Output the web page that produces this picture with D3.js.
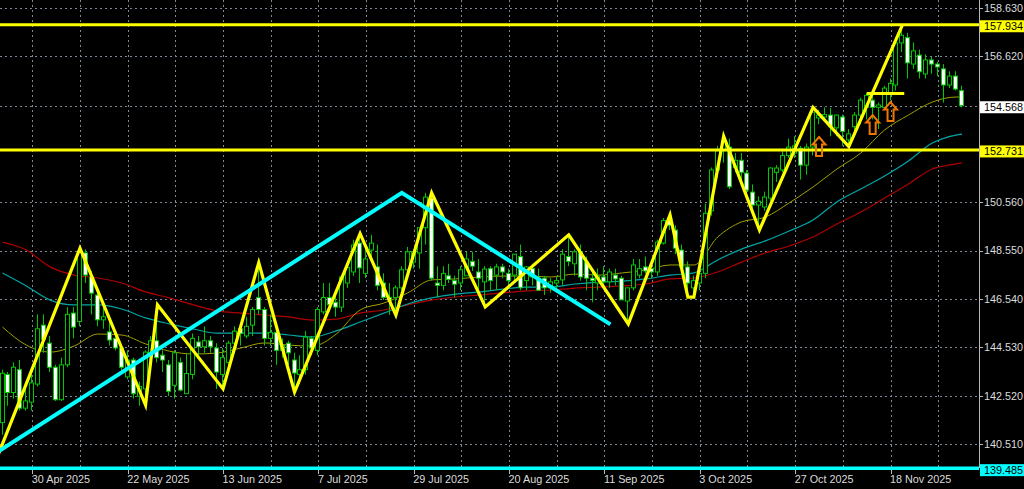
<!DOCTYPE html>
<html><head><meta charset="utf-8">
<script src="https://cdn.jsdelivr.net/npm/d3@7"></script>
<style>html,body{margin:0;padding:0;background:#000;overflow:hidden}svg{display:block}</style>
</head><body><svg id="c" width="1024" height="489"></svg>
<script>
// ---- data (USD/JPY daily, 23 Apr 2025 .. 4 Dec 2025, bar index 0..161) ----
const opens = [141.4,143.4,142.65,143.6,142.0,142.25,143.0,145.45,144.7,143.7,
142.35,143.8,145.95,145.6,148.45,147.45,146.7,145.67,145.17,144.9,
144.5,143.3,144.0,142.5,142.8,144.3,144.8,144.2,143.8,142.95,
143.9,142.6,143.4,144.75,144.55,144.8,144.5,143.4,143.9,144.7,
145.3,145.0,145.45,146.6,146.1,144.9,145.15,144.4,144.7,144.0,
143.4,143.6,144.9,144.4,146.0,146.6,146.4,146.2,147.2,147.66,
148.86,147.6,148.57,147.87,147.2,146.6,146.6,147.0,147.75,148.07,
148.45,149.5,150.73,147.2,147.1,147.5,147.3,147.2,147.5,148.1,
147.66,147.25,147.8,147.53,147.87,147.6,147.53,148.3,147.3,147.8,
147.4,147.4,147.0,147.2,147.33,148.3,148.0,148.5,148.07,147.4,
147.2,147.45,147.25,147.53,147.4,146.45,147.0,147.53,147.87,147.8,
147.66,148.86,149.8,149.4,148.57,147.87,147.0,147.2,147.6,150.2,
151.9,152.7,152.85,152.0,152.3,151.77,150.98,150.44,150.36,150.73,
151.8,151.9,152.5,152.6,152.8,152.1,152.85,154.06,154.1,154.18,
153.65,154.1,153.15,153.7,154.18,154.5,154.8,154.5,154.5,155.1,
155.43,157.18,157.4,156.3,156.67,155.89,156.47,156.3,156.1,155.43,
155.8,155.2];
const highs = [143.6,143.5,143.9,144.0,142.9,143.4,145.9,145.9,145.0,143.8,
144.1,146.2,146.2,148.65,148.6,147.7,146.8,146.2,145.8,145.1,
144.6,144.4,144.1,143.1,144.4,145.0,146.3,144.4,144.0,144.4,
144.1,144.3,145.1,145.0,145.4,145.0,144.7,144.5,144.8,145.4,
145.4,145.8,146.2,148.05,146.2,145.9,145.2,144.9,144.8,144.3,
144.2,145.2,145.0,146.2,147.2,147.2,146.8,147.5,148.0,149.0,
149.25,148.8,149.2,148.8,147.6,147.2,147.1,147.9,148.7,148.6,
149.5,150.95,150.9,147.9,147.9,148.0,147.5,147.9,148.5,148.5,
148.2,147.9,147.9,148.0,148.0,147.8,148.4,148.8,147.9,148.0,
147.8,147.5,147.4,147.5,148.6,149.2,148.6,148.8,148.3,147.8,
147.8,147.9,147.8,147.8,147.5,147.0,148.2,148.2,148.3,147.9,
149.0,149.9,150.03,149.6,148.8,148.1,147.5,147.9,150.5,152.0,
152.9,153.3,153.2,152.6,152.6,151.9,151.3,150.8,151.0,152.0,
152.1,152.7,153.2,153.3,152.9,153.0,154.5,154.4,154.5,154.48,
154.2,154.2,153.6,154.3,154.9,155.1,155.0,154.7,155.4,155.7,
157.2,157.93,157.6,157.2,156.9,156.7,156.6,156.4,156.3,156.0,
156.0,155.4];
const lows = [140.9,142.1,142.4,141.9,141.9,141.9,142.9,144.3,143.5,142.3,
142.3,143.7,144.9,145.4,147.2,145.9,145.4,145.3,144.6,144.4,
143.5,143.2,142.4,142.1,142.12,143.9,143.9,143.5,142.5,142.4,
142.7,142.6,143.2,144.1,144.3,144.3,142.8,142.8,143.5,144.3,
144.6,144.9,145.0,145.9,144.6,144.6,143.8,144.1,143.8,142.67,
143.0,143.4,144.2,144.2,145.9,146.0,145.8,146.0,147.0,147.5,
147.2,147.4,148.3,146.9,146.5,145.87,145.9,146.9,147.5,147.8,
147.8,148.8,147.3,146.6,146.9,147.2,146.6,146.9,147.5,147.7,
146.9,146.21,146.9,146.9,147.4,147.0,147.2,146.9,146.9,147.1,
146.9,146.7,146.8,146.8,147.1,147.9,147.5,147.3,146.9,146.4,
146.9,147.0,147.0,147.1,146.5,145.5,146.9,147.4,147.6,147.4,
147.5,148.8,149.4,148.4,147.7,146.61,146.61,146.9,147.4,150.0,
151.6,152.2,151.1,151.8,151.4,150.9,150.3,149.4,150.2,150.6,
151.4,151.8,152.4,152.4,151.5,151.7,152.5,153.8,153.9,153.3,
153.3,152.9,152.87,153.3,153.8,154.0,154.0,153.6,154.4,154.8,
155.2,156.8,155.7,156.1,155.7,155.7,155.9,155.8,154.7,155.3,
155.2,154.5];
const closes = [143.45,142.65,143.7,142.0,142.3,143.05,145.3,144.85,143.7,142.35,
143.8,145.9,145.37,148.5,147.53,146.78,145.67,145.8,144.83,144.5,
143.7,144.0,142.6,142.9,144.33,144.8,144.1,144.0,142.7,144.3,
142.75,143.44,144.9,144.55,144.8,144.55,143.5,144.1,144.7,145.2,
145.1,145.4,146.1,146.1,144.9,145.15,144.4,144.6,144.3,143.46,
143.6,144.95,144.5,146.1,146.6,146.3,146.2,147.45,147.85,148.78,
147.83,148.2,148.86,147.1,146.6,146.5,147.0,147.75,148.5,148.5,
149.5,150.77,147.4,147.1,147.6,147.35,147.15,147.75,148.2,147.9,
147.4,147.78,147.3,147.87,147.66,147.3,148.4,147.0,147.87,147.45,
146.9,147.0,147.25,147.3,148.4,148.1,148.5,147.45,147.4,147.3,
147.5,147.25,147.66,147.37,146.5,147.0,147.95,147.8,147.7,147.66,
148.9,149.8,149.6,148.65,147.87,147.2,147.3,147.6,150.1,151.9,
152.7,153.1,151.2,152.3,151.8,151.06,150.44,150.6,150.77,151.98,
151.98,152.5,152.85,152.9,152.1,152.85,154.3,154.18,154.2,153.7,
154.18,153.5,153.4,154.18,154.8,155.0,154.5,154.6,155.3,155.5,
157.18,157.5,156.35,156.85,155.98,156.47,156.3,156.18,155.43,155.8,
155.26,154.57];

// moving averages (bar index -> value)
const maIdx = [0,4,8,12,16,20,24,28,32,36,40,44,48,52,56,60,64,68,72,76,80,84,88,92,96,100,104,108,112,116,120,124,128,132,136,140,144,148,152,156,160,161];
const maFast = [145.37,144.62,144.33,144.58,145.08,145.04,144.67,144.37,144.25,144.29,144.50,144.71,144.62,144.58,145.08,146.08,146.37,146.79,147.33,147.37,147.45,147.49,147.49,147.45,147.57,147.53,147.62,147.74,147.95,147.95,149.11,149.74,149.94,150.53,151.19,151.94,152.60,153.56,154.18,154.72,154.93,154.93];
const maMid = [147.62,147.08,146.49,146.29,146.29,146.12,145.75,145.50,145.29,145.12,145.12,145.12,145.04,144.96,145.21,145.58,145.95,146.33,146.58,146.74,146.83,146.95,147.03,147.03,147.16,147.24,147.28,147.37,147.53,147.62,148.16,148.61,148.95,149.36,149.82,150.57,151.11,151.65,152.27,153.02,153.35,153.39];
const maSlow = [148.90,148.57,147.87,147.53,147.41,147.20,146.83,146.58,146.29,146.04,145.95,145.87,145.79,145.66,145.70,145.95,146.08,146.29,146.49,146.62,146.70,146.79,146.87,146.91,146.99,147.03,147.08,147.16,147.37,147.41,147.66,148.07,148.45,148.74,149.11,149.65,150.15,150.73,151.32,151.94,152.15,152.19];

// drawn objects
const zigIdx = [-1,13,24,26,37,43,49,60,66,72,81,95,105,112,115,116,121,127,136,142,151];
const zigPrice = [139.89,148.65,142.13,146.3,142.8,148.05,142.67,149.25,145.87,150.95,146.21,149.2,145.5,150.03,146.61,146.61,153.3,149.4,154.5,152.87,157.93];
const trendIdx = [-1,67,102];
const trendPrice = [140.15,150.95,145.48];
const levelYellow = [157.934,152.731];
const levelCyan = 139.485;
const currentPrice = 154.568;
const boxIdx = [145,151.3];
const boxPrice = 155.08;
const arrowIdx = [137,146,149];
const arrowPrice = [153.27,154.18,154.72];

// axes
const priceTicks = [158.630,156.620,150.560,148.550,146.540,144.530,142.520,140.510];
const dateTickIdx = [5,21,37,53,69,85,101,117,133,149];
const dateTickLabels = ["30 Apr 2025","22 May 2025","13 Jun 2025","7 Jul 2025","29 Jul 2025","20 Aug 2025","11 Sep 2025","3 Oct 2025","27 Oct 2025","18 Nov 2025"];

// ---- drawing ----
const W = 1024, H = 489, plotR = 979, plotB = 468;
const x = d3.scaleLinear().domain([0,161]).range([2.5, 962.06]);
const y = d3.scaleLinear().domain([140.51,158.63]).range([444,8]);
const svg = d3.select('#c');
const FONT = "'Liberation Sans', Arial, sans-serif";
svg.append('rect').attr('width',W).attr('height',H).attr('fill','#000');
svg.append('defs').append('clipPath').attr('id','clip')
  .append('rect').attr('x',0).attr('y',0).attr('width',plotR).attr('height',plotB+3);
const g = svg.append('g').attr('clip-path','url(#clip)');

const gridCol = '#7d8896';
// horizontal grid
g.selectAll('line.hg').data(priceTicks.concat([currentPrice])).join('line')
  .attr('x1',0).attr('x2',plotR)
  .attr('y1',d=>Math.round(y(d))+0.5).attr('y2',d=>Math.round(y(d))+0.5)
  .attr('stroke',gridCol).attr('stroke-width',1).attr('stroke-dasharray','2,3');
// vertical grid
const vIdx = d3.range(5,162,8);
g.selectAll('line.vg').data(vIdx).join('line')
  .attr('x1',d=>Math.round(x(d))+0.5).attr('x2',d=>Math.round(x(d))+0.5)
  .attr('y1',0).attr('y2',plotB)
  .attr('stroke',gridCol).attr('stroke-width',1).attr('stroke-dasharray','2,3');

// moving averages
const maLine = vals => d3.line().x((d,i)=>x(maIdx[i])).y(d=>y(d)).curve(d3.curveMonotoneX)(vals);
g.append('path').attr('d',maLine(maSlow)).attr('fill','none').attr('stroke','#b00000').attr('stroke-width',1.2);
g.append('path').attr('d',maLine(maMid)).attr('fill','none').attr('stroke','#00a5a5').attr('stroke-width',1.2);
g.append('path').attr('d',maLine(maFast)).attr('fill','none').attr('stroke','#a0a000').attr('stroke-width',1);

// candles
const candleCol = '#00c800';
const idx = d3.range(opens.length);
const cg = g.append('g');
cg.selectAll('line.w').data(idx).join('line')
  .attr('x1',i=>Math.round(x(i))-0.5).attr('x2',i=>Math.round(x(i))-0.5)
  .attr('y1',i=>y(highs[i])).attr('y2',i=>y(lows[i]))
  .attr('stroke',candleCol).attr('stroke-width',1);
cg.selectAll('rect.b').data(idx).join('rect')
  .attr('x',i=>Math.round(x(i))-2.5)
  .attr('y',i=>y(Math.max(opens[i],closes[i])))
  .attr('width',4)
  .attr('height',i=>Math.max(1,Math.abs(y(opens[i])-y(closes[i]))))
  .attr('fill',i=>closes[i]>=opens[i]?'#000':'#fff')
  .attr('stroke',candleCol).attr('stroke-width',1);

// horizontal level lines
g.selectAll('line.lvl').data(levelYellow).join('line')
  .attr('x1',0).attr('x2',plotR).attr('y1',d=>y(d)).attr('y2',d=>y(d))
  .attr('stroke','#ffff00').attr('stroke-width',3);
g.append('line').attr('x1',0).attr('x2',plotR).attr('y1',y(levelCyan)-0.3).attr('y2',y(levelCyan)-0.3)
  .attr('stroke','#00ffff').attr('stroke-width',3.5);

// zigzag
const polyLine = d3.line().x(d=>x(d[0])).y(d=>y(d[1]));
g.append('path').attr('d',polyLine(zigIdx.map((d,i)=>[d,zigPrice[i]])))
  .attr('fill','none').attr('stroke','#ffff00').attr('stroke-width',3.2).attr('stroke-linejoin','miter');
// trend lines
g.append('path').attr('d',polyLine(trendIdx.map((d,i)=>[d,trendPrice[i]])))
  .attr('fill','none').attr('stroke','#00ffff').attr('stroke-width',4).attr('stroke-linejoin','miter');
// short yellow segment
g.append('line').attr('x1',x(boxIdx[0])).attr('x2',x(boxIdx[1])).attr('y1',y(boxPrice)).attr('y2',y(boxPrice))
  .attr('stroke','#ffff00').attr('stroke-width',3);

// arrows
const arrowPath = 'M0,0 L6.5,7.5 L3,7.5 L3,19 L-3,19 L-3,7.5 L-6.5,7.5 Z';
g.selectAll('path.arr').data(arrowIdx).join('path')
  .attr('d',arrowPath)
  .attr('transform',(d,i)=>`translate(${x(d)},${y(arrowPrice[i])})`)
  .attr('fill','none').attr('stroke','#f07800').attr('stroke-width',2).attr('stroke-linejoin','miter');

// frame
svg.append('line').attr('x1',plotR+0.5).attr('x2',plotR+0.5).attr('y1',0).attr('y2',plotB)
  .attr('stroke','#b8b8b8').attr('stroke-width',1);

// price axis labels
const labCol = '#dcdcdc';
svg.selectAll('line.pt').data(priceTicks).join('line')
  .attr('x1',plotR).attr('x2',plotR+4).attr('y1',d=>Math.round(y(d))+0.5).attr('y2',d=>Math.round(y(d))+0.5)
  .attr('stroke','#b8b8b8');
svg.selectAll('text.pl').data(priceTicks).join('text')
  .attr('x',984).attr('y',d=>y(d)).attr('dy','0.36em')
  .attr('fill',labCol).attr('font-family',FONT).attr('font-size','10.8px')
  .text(d=>d3.format('.3f')(d));

// highlighted labels
const hl = [
  {v:levelYellow[0], bg:'#ffff00'},
  {v:levelYellow[1], bg:'#ffff00'},
  {v:currentPrice, bg:'#ffffff'},
  {v:levelCyan, bg:'#00ffff'}
];
const hg = svg.selectAll('g.hl').data(hl).join('g');
hg.append('rect').attr('x',980).attr('y',d=>y(d.v)-4.5).attr('width',44).attr('height',12).attr('fill',d=>d.bg);
hg.append('text').attr('x',984).attr('y',d=>y(d.v)+1.5).attr('dy','0.36em')
  .attr('fill','#000').attr('font-family',FONT).attr('font-size','10.8px')
  .text(d=>d3.format('.3f')(d.v));

// date axis
svg.selectAll('line.dt').data(dateTickIdx).join('line')
  .attr('x1',d=>Math.round(x(d))+0.5).attr('x2',d=>Math.round(x(d))+0.5)
  .attr('y1',plotB+2).attr('y2',plotB+6).attr('stroke','#b8b8b8');
svg.selectAll('text.dl').data(dateTickIdx).join('text')
  .attr('x',d=>x(d)-0.5).attr('y',483)
  .attr('fill',labCol).attr('font-family',FONT).attr('font-size','10.8px')
  .text((d,i)=>dateTickLabels[i]);
</script></body></html>
